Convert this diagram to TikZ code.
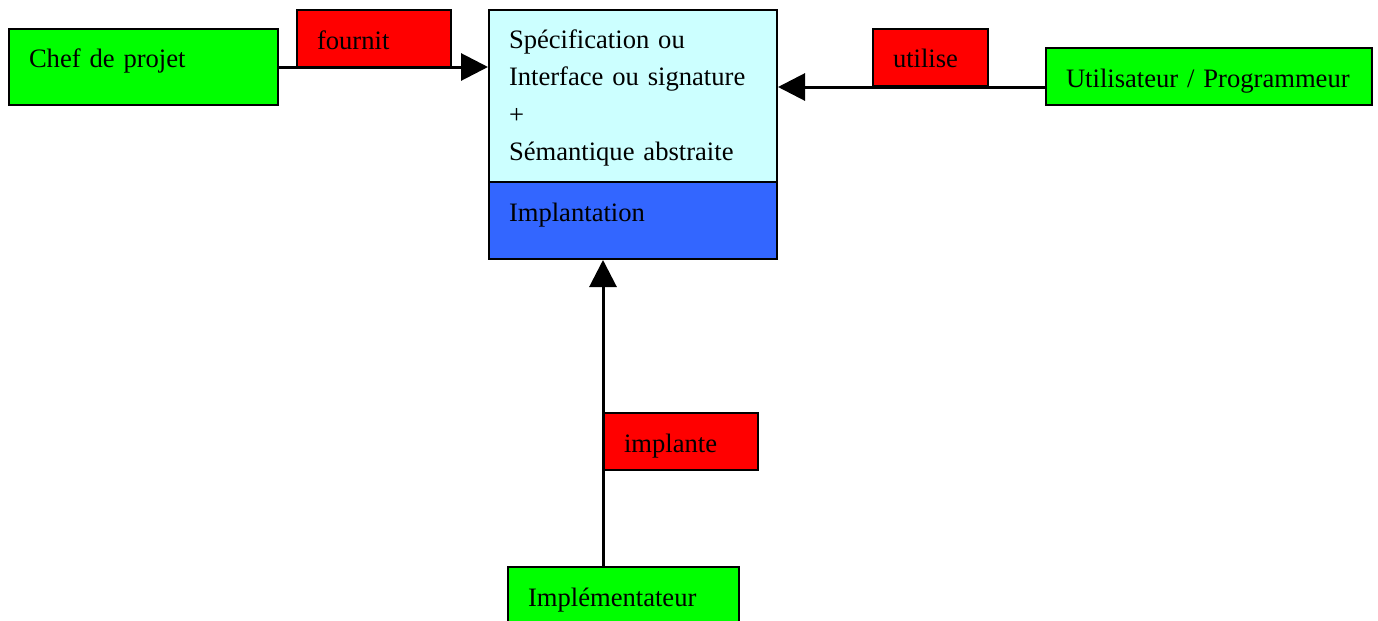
\documentclass[tikz,border=0pt]{standalone}
\usepackage{fontspec}
\setmainfont{Liberation Serif}
\usetikzlibrary{arrows.meta}
\definecolor{vert}{HTML}{00FF00}
\definecolor{rouge}{HTML}{FF0000}
\definecolor{ciel}{HTML}{CCFFFF}
\definecolor{bleu}{HTML}{3366FF}
\begin{document}
\begin{tikzpicture}[x=0.5pt,y=-0.5pt]
\tikzstyle{boite}=[draw, line width=1pt, anchor=north west, inner xsep=10pt, inner ysep=0pt, align=left, text height=19.5pt, font=\fontsize{13.3}{18.8}\selectfont]
\tikzstyle{acteur}=[boite, fill=vert, text depth=9pt]
\tikzstyle{verbe}=[boite, fill=rouge, text depth=9pt]
\tikzstyle{fleche}=[line width=1.5pt, -{Triangle[length=13.5pt,width=13.5pt]}]

\useasboundingbox (0,0) rectangle (1378,621);

% module : specification + implantation
\node[boite, fill=ciel, minimum width=144pt, text width=124pt, text height=19pt, text depth=67pt] (spec) at (488,9)
  {Spécification ou\\Interface ou signature\\+\\Sémantique abstraite};
\node[boite, fill=bleu, minimum width=144pt, text width=124pt, text depth=19pt] (impl) at (488,181) {Implantation};

% acteurs
\node[acteur, minimum width=134.5pt, text width=114.5pt, text depth=18.5pt] (chef) at (8,28) {Chef de projet};
\node[acteur, minimum width=163pt, text width=143pt] (user) at (1045,47) {Utilisateur / Programmeur};
\node[acteur, minimum width=115.5pt, text width=95.5pt] (implem) at (507,566) {Implémentateur};

% relations
\node[verbe, minimum width=77pt, text width=57pt] (fournit) at (296,9) {fournit};
\node[verbe, minimum width=57.5pt, text width=37.5pt] (utilise) at (872,28) {utilise};
\node[verbe, minimum width=77pt, text width=57pt] (implante) at (603,412) {implante};

\draw[fleche] (chef.east) -- (chef.east -| spec.west);
\draw[fleche] (user.west |- utilise.south) -- (spec.east |- utilise.south);
\draw[fleche] (implem.north -| implante.west) -- (impl.south -| implante.west);

\end{tikzpicture}
\end{document}
